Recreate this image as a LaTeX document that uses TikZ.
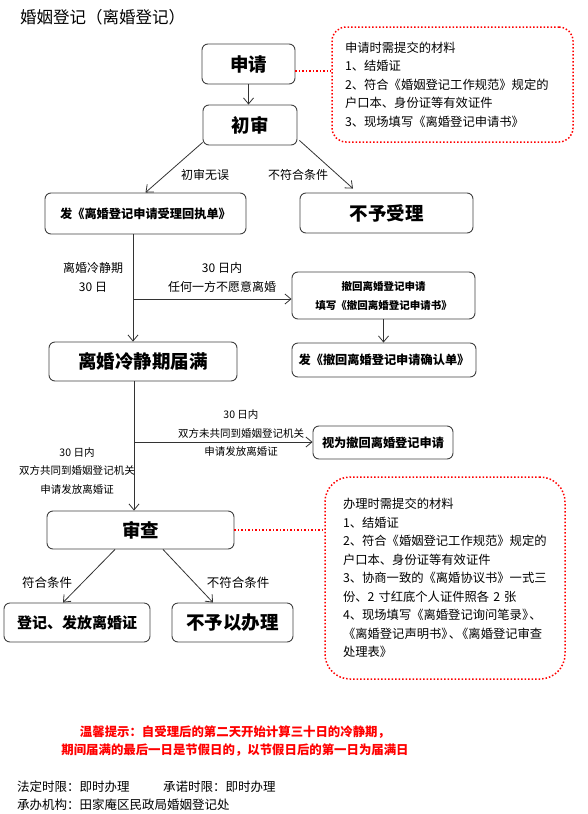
\documentclass[tikz,border=0pt]{standalone}
\usepackage{fontspec}
\setmainfont{Noto Sans CJK SC}
\usetikzlibrary{arrows.meta}
\begin{document}
\begin{tikzpicture}[x=1pt,y=-1pt,
 box/.style={draw=black!75, line width=0.9pt, rounded corners=6pt, inner sep=0pt, align=center},
 arr/.style={draw=black!80, line width=0.8pt, -{Straight Barb[length=6pt,width=10pt]}},
 reddot/.style={draw=red, line width=1.5pt, dotted},
 big/.style={font=\fontsize{18.5}{20}\selectfont\bfseries},
 mid/.style={font=\fontsize{12.2}{15}\selectfont\bfseries},
 note/.style={font=\fontsize{12}{18.5}\selectfont, align=center, inner sep=0pt},
 sml/.style={font=\fontsize{10.5}{18.5}\selectfont, align=center, inner sep=0pt},
 memo/.style={draw=red, line width=1.5pt, dotted, align=left,
   font=\fontsize{12.3}{18.5}\selectfont, inner ysep=0pt},
]
\useasboundingbox (0,0) rectangle (588,814);

% title
\node[anchor=west, inner sep=0pt, font=\fontsize{16.5}{18}\selectfont] (title) at (20,17) {婚姻登记（离婚登记）};

% main boxes
\node[box, big, minimum width=93pt, minimum height=40pt] (sq) at (248.5,64) {申请};
\node[box, big, minimum width=94pt, minimum height=40pt] (cs) at (250,125) {初审};
\node[box, mid, minimum width=201pt, minimum height=41pt] (fd) at (145.5,213.5) {发《离婚登记申请受理回执单》};
\node[box, big, minimum width=173pt, minimum height=40pt] (by) at (386.5,213) {不予受理};
\node[box, font=\fontsize{10.5}{19}\selectfont\bfseries, minimum width=183pt, minimum height=47pt] (ch) at (383.5,295.5) {撤回离婚登记申请\\填写《撤回离婚登记申请书》};
\node[box, mid, minimum width=184pt, minimum height=34pt] (fc) at (384,360) {发《撤回离婚登记申请确认单》};
\node[box, big, minimum width=188pt, minimum height=39pt] (lj) at (143,361.5) {离婚冷静期届满};
\node[box, mid, minimum width=140pt, minimum height=33pt] (sw) at (383,442.5) {视为撤回离婚登记申请};
\node[box, big, minimum width=187pt, minimum height=38pt] (sc) at (140.5,530) {审查};
\node[box, font=\fontsize{15}{17}\selectfont\bfseries, minimum width=146pt, minimum height=39pt] (dj) at (77,622.5) {登记、发放离婚证};
\node[box, big, minimum width=121pt, minimum height=39pt] (bb) at (232.5,622.5) {不予以办理};

% memo boxes
\node[memo, rounded corners=14pt, inner xsep=13pt, text width=215pt, minimum height=115pt] (m1) at (452.5,84.5)
 {申请时需提交的材料\\1、结婚证\\2、符合《婚姻登记工作规范》规定的\\户口本、身份证等有效证件\\3、现场填写《离婚登记申请书》};
\node[memo, rounded corners=25pt, inner xsep=18pt, text width=204pt, minimum height=202pt] (m2) at (445,578)
 {办理时需提交的材料\\1、结婚证\\2、符合《婚姻登记工作规范》规定的\\户口本、身份证等有效证件\\3、协商一致的《离婚协议书》一式三\\份、2 寸红底个人证件照各 2 张\\4、现场填写《离婚登记询问笔录》\kern-0.4em、\\《离婚登记声明书》\kern-0.4em、\kern-0.4em《离婚登记审查\\处理表》};

% connectors
\draw[arr] (sq.south) -- (sq.south |- cs.north);
\draw[arr] ([yshift=3pt]cs.south west) -- (fd.north);
\draw[arr] ([yshift=5pt,xshift=2pt]cs.south east) -- ([xshift=-33.5pt,yshift=4pt]by.north);
\coordinate (t1) at (133,234);
\draw[arr] (t1) -- (t1 |- lj.north);
\coordinate (b1) at (133,299);
\draw[arr] (b1) -- (b1 -| ch.west);
\draw[arr] (ch.south) -- (ch.south |- fc.north);
\coordinate (t2) at (134,381);
\draw[arr] (t2) -- (t2 |- sc.north);
\coordinate (b2) at (134,442);
\draw[arr] (b2) -- (b2 -| sw.west);
\draw[arr] ([xshift=-25.5pt]sc.south) -- ([xshift=-14pt]dj.north);
\draw[arr] ([xshift=22.5pt]sc.south) -- ([xshift=-19.5pt]bb.north);
\draw[reddot] ([yshift=-7pt]sq.east) -- ([yshift=-7pt]sq.east -| m1.west);
\draw[reddot] (sc.east) -- (sc.east -| m2.west);

% labels
\node[note] (l1) at (205,175) {初审无误};
\node[note] (l2) at (298,175) {不符合条件};
\node[note] (l3) at (93,277.5) {离婚冷静期\\30 日};
\node[note] (l4) at (222,277.5) {30 日内\\任何一方不愿意离婚};
\node[sml] (l5) at (241,433.5) {30 日内\\双方未共同到婚姻登记机关\\申请发放离婚证};
\node[sml] (l6) at (77,471) {30 日内\\双方共同到婚姻登记机关\\申请发放离婚证};
\node[note, font=\fontsize{12.5}{18}\selectfont] (l7) at (47,583) {符合条件};
\node[note, font=\fontsize{12.5}{18}\selectfont] (l8) at (238,583) {不符合条件};

% reminder
\node[inner sep=0pt, align=center, text=red, font=\fontsize{12.4}{18}\selectfont\bfseries] (tip) at (235,741)
 {温馨提示：自受理后的第二天开始计算三十日的冷静期，\\期间届满的最后一日是节假日的，以节假日后的第一日为届满日};

% footer
\node[anchor=west, inner sep=0pt, font=\fontsize{12.5}{14}\selectfont] (f1) at (17,787) {法定时限：即时办理};
\node[anchor=west, inner sep=0pt, font=\fontsize{12.5}{14}\selectfont] (f2) at (163,787) {承诺时限：即时办理};
\node[anchor=west, inner sep=0pt, font=\fontsize{12.5}{14}\selectfont] (f3) at (17,805) {承办机构：田家庵区民政局婚姻登记处};
\end{tikzpicture}
\end{document}
